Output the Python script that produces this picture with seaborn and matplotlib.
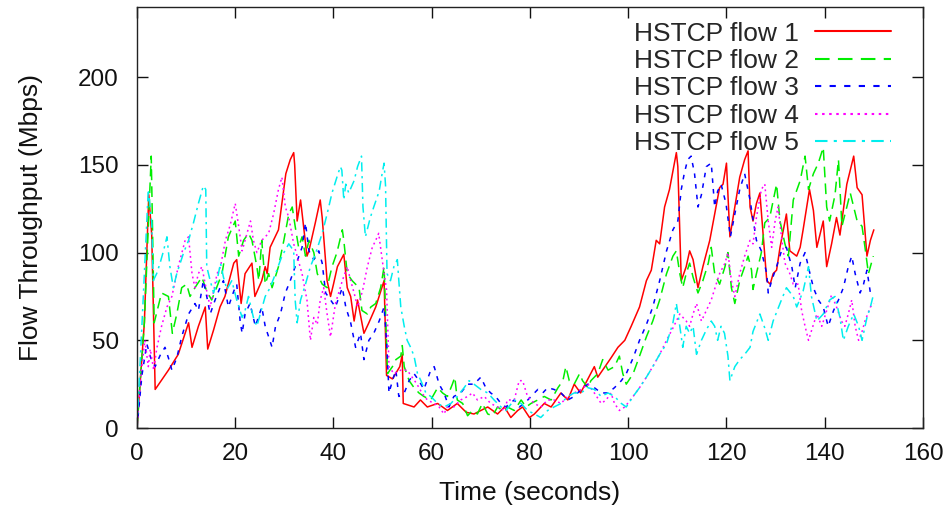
import numpy as np
import pandas as pd
import matplotlib
matplotlib.use("Agg")
import matplotlib.pyplot as plt
import seaborn as sns

# ---------------- data ----------------
flow_names = ["HSTCP flow 1", "HSTCP flow 2", "HSTCP flow 3", "HSTCP flow 4", "HSTCP flow 5"]

flow1 = [(0,0),(1.5,60),(2.4,133),(3.0,110),(3.7,22),(6.4,33),(8.4,42),(9.8,54),(10.5,60),(11.2,46),
         (12.5,58),(13.9,69),(14.4,45),(15.6,56),(16.9,69),(17.9,75),(19.7,94),(20.3,96),(21.2,71),(22.0,88),
         (23.4,94),(24.0,75),(25.4,84),(26.1,92),(26.5,88),(27.1,103),(28.8,113),(29.4,126),(30.3,145),(31.2,153),
         (31.9,157),(32.1,150),(32.6,118),(33.3,130),(34.0,113),(34.6,98),(35.0,101),(36.3,117),(37.3,130),(37.7,120),
         (38.7,84),(39.4,75),(40.0,82),(40.8,92),(42.1,99),(42.8,80),(43.5,75),(44.2,61),(44.9,73),(46.2,54),
         (47.2,60),(48.6,69),(50.3,84),(50.8,30),(52.0,28),(53.5,35),(54.0,42),(54.2,14),(56.4,12),(57.7,16),
         (59.1,12),(61.2,14),(63.2,10),(65.2,14),(67.0,9),(68.6,8),(71.4,12),(73.4,8),(74.8,12),(76.1,6),
         (77.5,10),(78.5,12),(79.9,6),(80.9,8),(82.9,14),(84.3,12),(86.3,20),(87.7,16),(89.0,25),(90.3,20),
         (93.1,35),(93.8,29),(96.5,40),(97.9,46),(99.3,50),(100.6,58),(102.3,69),(103.7,84),(104.7,90),(105.7,107),
         (106.4,105),(107.4,126),(108.4,136),(109.8,157),(110.1,149),(110.8,84),(111.8,92),(112.5,101),(113.2,96),(114.2,80),
         (115.2,92),(116.6,107),(117.6,122),(118.6,137),(119.3,139),(120.0,151),(120.7,109),(121.7,126),(122.7,143),(123.7,153),
         (124.4,158),(124.8,126),(125.4,118),(126.1,128),(126.8,134),(128.2,84),(128.9,82),(129.5,88),(130.2,90),(130.9,103),
         (132.2,122),(132.9,101),(134.3,98),(135.0,103),(135.6,113),(136.9,136),(137.7,124),(138.4,103),(139.0,110),(139.7,118),
         (140.4,92),(141.4,105),(142.4,120),(143.1,110),(144.5,139),(145.9,155),(146.6,137),(147.6,133),(148.6,98),(149.3,107),
         (150.0,113)]

flow2 = [(0,0),(1.5,60),(2.9,155),(3.5,60),(5.0,77),(6.4,75),(7.2,54),(8.1,65),(9.1,80),(10.1,82),
         (10.8,75),(11.8,80),(13.2,86),(14.2,78),(15.2,73),(16.2,80),(17.3,88),(18.6,109),(20.0,118),(20.7,98),
         (21.7,107),(22.7,111),(23.4,107),(24.4,92),(24.8,84),(25.4,107),(26.1,82),(26.8,88),(27.5,80),(28.8,92),
         (29.9,107),(30.9,122),(31.6,126),(32.2,115),(32.9,103),(33.6,109),(34.3,98),(35.0,107),(36.0,100),(36.7,88),
         (37.7,82),(38.7,80),(39.7,92),(40.7,100),(41.8,113),(42.1,107),(42.8,88),(43.8,84),(45.2,80),(45.8,67),
         (46.9,65),(47.6,69),(48.6,71),(49.6,80),(50.3,92),(51.0,31),(52.0,35),(52.7,39),(53.7,41),(54.0,47),
         (54.4,35),(55.4,27),(56.4,23),(57.4,20),(58.4,18),(59.8,16),(61.2,23),(62.2,20),(63.2,18),(64.2,25),
         (64.7,29),(65.2,16),(66.3,14),(67.3,7),(68.3,10),(69.3,8),(70.3,14),(71.4,8),(72.4,7),(73.4,12),
         (74.4,10),(75.4,12),(76.8,10),(78.2,16),(79.2,12),(80.2,14),(81.6,16),(82.9,18),(84.3,16),(85.7,23),
         (86.7,27),(87.3,35),(88.0,27),(89.0,25),(90.1,31),(90.7,27),(91.8,23),(92.4,27),(93.8,31),(94.8,39),
         (95.9,33),(97.2,35),(98.2,41),(98.9,31),(99.6,25),(101.0,31),(102.3,41),(103.7,52),(105.0,61),(106.4,73),
         (107.8,88),(109.1,98),(109.8,101),(110.5,88),(111.1,80),(111.8,88),(112.5,94),(113.2,86),(114.2,77),(115.2,84),
         (116.3,94),(116.9,103),(117.6,88),(118.6,82),(119.7,92),(120.3,100),(121.0,80),(121.7,71),(122.7,84),(123.7,92),
         (124.4,98),(125.1,90),(125.4,79),(126.1,88),(127.1,100),(127.8,117),(128.8,120),(130.2,139),(130.9,118),(131.9,105),
         (132.6,98),(133.6,130),(135.0,141),(136.0,155),(136.7,136),(137.7,145),(138.7,151),(139.7,160),(140.4,126),(141.0,118),
         (142.1,133),(142.8,153),(143.5,115),(144.5,126),(145.2,134),(145.9,126),(146.6,118),(147.6,115),(148.2,103),(148.9,88),
         (149.9,98)]

flow3 = [(0,0),(1.0,30),(2.0,48),(2.8,40),(3.7,35),(4.8,42),(5.7,46),(6.4,40),(7.1,33),(8.1,40),
         (9.1,52),(10.5,65),(11.8,71),(12.5,67),(13.5,84),(14.2,75),(14.9,65),(15.9,73),(16.9,80),(17.6,84),
         (18.6,69),(19.7,78),(20.3,82),(21.0,61),(21.4,54),(22.0,65),(23.0,71),(24.1,58),(25.4,69),(26.1,58),
         (27.5,46),(28.2,58),(29.2,65),(30.2,77),(31.2,84),(32.2,92),(33.6,103),(34.3,117),(35.0,101),(36.0,96),
         (37.0,101),(37.7,94),(38.4,77),(39.4,73),(40.4,69),(41.8,80),(42.5,69),(43.5,60),(44.5,46),(45.5,54),
         (46.2,39),(47.2,50),(48.2,54),(49.3,61),(50.3,69),(50.8,50),(51.3,20),(52.0,27),(52.7,33),(53.3,18),
         (54.4,20),(55.4,27),(56.4,31),(57.4,27),(58.4,22),(59.8,33),(60.5,35),(61.5,25),(62.5,20),(63.5,12),
         (64.5,18),(65.9,20),(67.3,25),(68.6,25),(70.0,29),(71.0,23),(72.0,20),(73.0,18),(74.1,14),(75.1,12),
         (75.9,14),(76.8,16),(77.8,12),(78.9,14),(80.2,18),(81.6,22),(82.6,20),(83.6,23),(84.9,22),(86.3,20),
         (87.7,16),(89.0,18),(90.4,22),(91.8,25),(93.1,23),(94.5,20),(95.9,20),(97.2,23),(98.6,27),(99.6,31),
         (101.0,40),(102.3,50),(103.7,59),(105.0,69),(106.4,84),(107.8,101),(109.1,113),(110.1,118),(110.8,136),(111.4,145),
         (112.1,153),(112.8,155),(113.5,145),(114.2,126),(114.9,133),(115.9,149),(116.9,151),(117.6,126),(118.2,135),(118.9,139),
         (119.9,128),(120.8,109),(121.7,122),(122.7,136),(123.7,145),(124.8,130),(125.4,119),(126.1,107),(127.1,101),(128.2,88),
         (128.5,77),(129.2,84),(130.2,92),(131.2,101),(132.2,103),(133.3,92),(134.0,80),(135.0,94),(136.0,100),(137.0,88),
         (137.7,80),(138.7,73),(139.7,69),(140.7,58),(141.8,67),(142.8,73),(143.8,80),(144.8,92),(145.5,98),(146.2,88),
         (147.2,77),(147.9,82),(148.6,90),(149.3,77),(150.0,79)]

flow4 = [(0,0),(0.8,30),(1.6,50),(2.3,35),(2.7,45),(3.4,33),(4.0,45),(5.0,58),(6.1,69),(7.1,75),
         (8.4,92),(9.8,107),(10.5,109),(11.2,88),(11.8,80),(12.5,88),(13.2,92),(13.9,82),(14.9,69),(15.6,78),
         (16.3,88),(17.0,92),(18.0,107),(19.0,116),(20.0,128),(20.7,115),(21.4,101),(22.4,111),(23.1,118),(23.7,107),
         (24.4,100),(25.4,107),(26.1,109),(26.8,111),(27.8,122),(28.8,136),(29.5,143),(30.2,126),(30.9,120),(31.9,105),
         (32.6,98),(33.6,88),(34.6,73),(35.3,50),(36.0,63),(36.7,59),(37.3,73),(38.0,80),(38.7,65),(39.4,52),
         (40.4,71),(41.8,84),(42.8,92),(43.5,84),(44.2,77),(44.9,69),(45.9,78),(46.9,92),(47.9,103),(48.6,107),
         (49.2,111),(50.3,88),(50.8,79),(51.3,35),(52.3,31),(53.7,33),(55.0,33),(56.0,29),(57.0,25),(58.0,20),
         (59.1,16),(60.5,14),(61.5,12),(62.5,8),(63.5,14),(64.5,12),(65.9,16),(67.3,18),(68.3,20),(69.3,16),
         (70.7,18),(72.0,14),(73.4,12),(74.8,10),(75.4,16),(76.8,16),(77.8,27),(78.5,27),(79.5,18),(80.9,14),
         (82.2,12),(83.6,16),(84.9,16),(86.3,14),(87.7,18),(89.0,20),(90.4,22),(91.8,25),(93.1,20),(94.5,14),
         (95.5,16),(96.5,20),(97.2,14),(98.2,10),(99.3,12),(101.0,18),(102.3,23),(103.7,29),(105.0,35),(106.4,42),
         (107.8,50),(109.1,57),(110.5,65),(111.8,61),(112.5,58),(113.2,65),(113.9,71),(114.9,61),(115.9,67),(116.9,73),
         (117.9,82),(118.6,88),(119.7,94),(120.3,100),(121.0,84),(121.7,75),(122.7,88),(123.7,98),(124.8,107),(125.4,105),
         (126.1,120),(127.1,136),(127.8,139),(128.5,118),(129.2,103),(129.9,118),(130.5,126),(131.2,109),(131.9,94),(132.9,88),
         (133.6,82),(134.6,82),(135.3,67),(136.0,58),(136.7,50),(137.7,59),(138.4,65),(139.4,58),(140.4,67),(141.4,76),
         (142.4,69),(143.4,61),(144.1,58),(144.8,65),(145.5,73),(146.2,58),(146.9,50),(147.6,55),(148.2,61),(149.3,69),
         (150.0,71)]

flow5 = [(0,0),(1.2,70),(2.3,136),(3.0,117),(3.3,84),(4.0,88),(4.7,94),(5.4,101),(6.1,109),(6.7,92),
         (7.4,80),(8.1,88),(8.8,94),(9.5,100),(10.5,107),(11.5,117),(12.5,128),(13.5,138),(14.0,136),(14.2,92),
         (14.9,84),(15.6,77),(16.3,84),(17.0,94),(17.6,86),(18.3,79),(19.3,84),(20.3,73),(21.4,63),(22.0,67),
         (22.7,75),(23.7,63),(24.4,58),(25.1,65),(26.1,75),(27.1,80),(28.2,88),(29.5,98),(30.9,105),(31.9,101),
         (32.2,73),(32.6,60),(33.3,73),(34.3,82),(35.3,92),(36.3,99),(37.7,111),(38.7,122),(39.7,134),(40.7,143),
         (41.4,149),(41.7,147),(42.1,130),(42.5,139),(43.1,134),(44.2,141),(44.9,149),(45.7,155),(46.0,126),(46.5,109),
         (47.5,120),(48.2,126),(49.3,135),(49.9,145),(50.3,151),(50.6,138),(50.9,88),(51.6,84),(52.3,92),(53.0,96),
         (53.3,84),(53.7,69),(54.4,58),(55.0,50),(55.7,46),(56.4,41),(57.1,31),(57.8,27),(58.8,20),(59.8,18),
         (61.2,14),(62.5,12),(63.9,14),(65.2,18),(66.6,23),(67.6,27),(68.6,25),(70.0,22),(71.4,20),(72.7,16),
         (74.1,12),(75.1,10),(76.8,16),(78.2,14),(79.5,10),(80.9,8),(82.2,6),(83.6,10),(84.9,12),(86.3,14),
         (87.7,18),(89.0,20),(90.4,20),(91.8,23),(93.1,22),(94.5,18),(95.9,20),(97.2,18),(98.6,14),(99.6,12),
         (101.0,18),(102.3,23),(103.7,29),(105.0,35),(106.4,42),(107.8,48),(109.1,60),(109.8,71),(110.5,58),(111.1,46),
         (111.8,58),(112.5,54),(113.2,58),(113.9,42),(114.9,50),(115.9,56),(116.9,61),(117.6,58),(118.2,50),(118.9,58),
         (119.6,54),(120.3,41),(120.7,27),(121.7,35),(122.7,39),(123.7,42),(124.8,46),(125.4,55),(126.8,65),(127.8,57),
         (128.5,50),(129.5,61),(130.9,71),(132.2,80),(133.6,75),(134.3,69),(135.6,78),(136.7,92),(137.3,75),(138.4,61),
         (139.7,65),(141.0,73),(142.1,75),(143.1,63),(143.8,50),(144.8,58),(145.9,65),(146.9,58),(147.6,50),(148.6,63),
         (149.3,69),(150.0,77)]

x_ticks = [0, 20, 40, 60, 80, 100, 120, 140, 160]
y_ticks = [0, 50, 100, 150, 200]
x_label = "Time (seconds)"
y_label = "Flow Throughput (Mbps)"

# ---------------- build long-form table ----------------
frames = []
for name, pts in zip(flow_names, [flow1, flow2, flow3, flow4, flow5]):
    arr = np.array(pts, dtype=float)
    frames.append(pd.DataFrame({"t": arr[:, 0], "v": arr[:, 1], "flow": name}))
df = pd.concat(frames, ignore_index=True)

palette = dict(zip(flow_names, ["#ff0000", "#00ee00", "#0000ff", "#ff00ff", "#00eeee"]))
dashes = dict(zip(flow_names, ["", (7, 4), (3, 4), (1.2, 2.2), (6, 3, 1.5, 3)]))

sns.set_style("ticks")
plt.rcParams["font.family"] = ["Liberation Sans", "DejaVu Sans"]

fig = plt.figure(figsize=(9.52, 5.12), dpi=100)
ax = fig.add_axes([0.1439, 0.164, 0.8256, 0.8223])

sns.lineplot(data=df, x="t", y="v", hue="flow", style="flow", palette=palette,
             dashes=dashes, estimator=None, sort=False, linewidth=1.1, ax=ax,
             hue_order=flow_names, style_order=flow_names)

ax.set_xlim(0, 160)
ax.set_ylim(0, 240)
ax.set_xticks(x_ticks)
ax.set_yticks(y_ticks)
ax.set_xlabel(x_label, fontsize=19, labelpad=11, color="#111111")
ax.set_ylabel(y_label, fontsize=19, labelpad=25, color="#111111")
ax.tick_params(axis="both", direction="in", length=8, width=1, top=True, right=True,
               labelsize=17.5, colors="#111111")
ax.tick_params(axis="x", pad=11)
ax.tick_params(axis="y", pad=13)
for s in ax.spines.values():
    s.set_visible(True)
    s.set_linewidth(1.0)
    s.set_color("#222222")

handles, labels = ax.get_legend_handles_labels()
leg = ax.legend(handles, labels, loc="upper right", frameon=False, markerfirst=False,
                fontsize=19, handlelength=2.9, handletextpad=0.6, labelspacing=0.13,
                borderaxespad=0.15, bbox_to_anchor=(0.978, 1.0))
for h in leg.get_lines():
    h.set_linewidth(1.5)

fig.savefig("out.png", dpi=100)
